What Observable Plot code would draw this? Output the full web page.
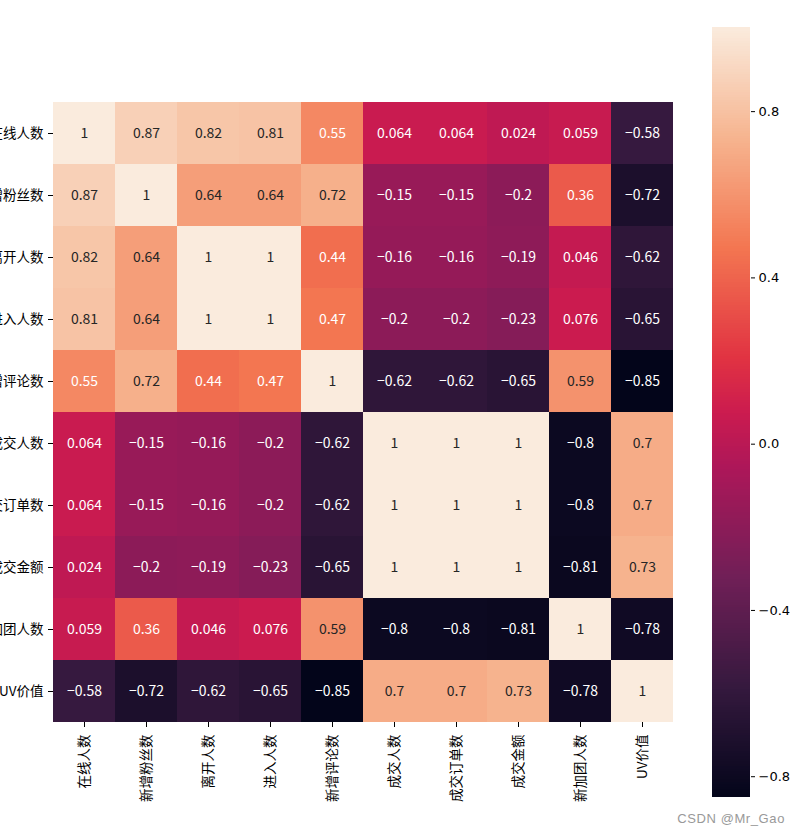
<!DOCTYPE html>
<html>
<head>
<meta charset="utf-8">
<script src="https://cdn.jsdelivr.net/npm/d3@7"></script>
<script src="https://cdn.jsdelivr.net/npm/@observablehq/plot@0.6"></script>
<style>
  html, body { margin: 0; padding: 0; background: #fff; }
  #wrap { position: relative; width: 800px; height: 836px; overflow: hidden; font-family: "Noto Sans CJK SC", "Noto Sans", sans-serif; }
  #main, #cbar { position: absolute; top: 0; }
  #main { left: 0; }
  #cbar { left: 690px; }
  #mark { position: absolute; right: 15px; top: 811px; font: 13px "Liberation Sans", Arial, sans-serif; letter-spacing: 0.6px; color: #999; }
</style>
</head>
<body>
<div id="wrap">
  <div id="main"></div>
  <div id="cbar"></div>
  <div id="mark">CSDN @Mr_Gao</div>
</div>
<script>
const labels = ["在线人数","新增粉丝数","离开人数","进入人数","新增评论数","成交人数","成交订单数","成交金额","新加团人数","UV价值"];
const corr = [
  [1, 0.87, 0.82, 0.81, 0.55, 0.064, 0.064, 0.024, 0.059, -0.58],
  [0.87, 1, 0.64, 0.64, 0.72, -0.15, -0.15, -0.2, 0.36, -0.72],
  [0.82, 0.64, 1, 1, 0.44, -0.16, -0.16, -0.19, 0.046, -0.62],
  [0.81, 0.64, 1, 1, 0.47, -0.2, -0.2, -0.23, 0.076, -0.65],
  [0.55, 0.72, 0.44, 0.47, 1, -0.62, -0.62, -0.65, 0.59, -0.85],
  [0.064, -0.15, -0.16, -0.2, -0.62, 1, 1, 1, -0.8, 0.7],
  [0.064, -0.15, -0.16, -0.2, -0.62, 1, 1, 1, -0.8, 0.7],
  [0.024, -0.2, -0.19, -0.23, -0.65, 1, 1, 1, -0.81, 0.73],
  [0.059, 0.36, 0.046, 0.076, 0.59, -0.8, -0.8, -0.81, 1, -0.78],
  [-0.58, -0.72, -0.62, -0.65, -0.85, 0.7, 0.7, 0.73, -0.78, 1]
];
const cbarTicks = [0.8, 0.4, 0.0, -0.4, -0.8];

// seaborn "rocket" colormap stops
const rocketT = [0, 1/7, 2/7, 3/7, 0.5, 4/7, 5/7, 6/7, 1];
const rocketC = ["#03051a","#35193e","#701f57","#ad1759","#cb1b4f","#e13342","#f37651","#f6b48f","#faebdd"];

const cells = labels.flatMap((r, i) => labels.map((c, j) => ({row: r, col: c, value: corr[i][j]})));
const vmin = d3.min(cells, d => d.value);
const vmax = d3.max(cells, d => d.value);
const stopDomain = rocketT.map(t => vmin + t * (vmax - vmin));
const colorOpts = {type: "linear", domain: stopDomain, range: rocketC, interpolate: "rgb"};

const cfn = d3.scaleLinear().domain(stopDomain).range(rocketC).interpolate(d3.interpolateRgb);
function lum(col) {
  const c = d3.rgb(col);
  const f = v => { v /= 255; return v <= 0.03928 ? v / 12.92 : Math.pow((v + 0.055) / 1.055, 2.4); };
  return 0.2126 * f(c.r) + 0.7152 * f(c.g) + 0.0722 * f(c.b);
}
const fmt = v => String(v).replace("-", "\u2212");

const main = Plot.plot({
  width: 800,
  height: 836,
  marginLeft: 53,
  marginRight: 127,
  marginTop: 102,
  marginBottom: 114,
  style: {fontFamily: "'Noto Sans CJK SC', sans-serif", fontSize: "13.5px", color: "#000", background: "transparent"},
  x: {domain: labels, padding: 0, label: null, tickRotate: -90, tickSize: 5, tickPadding: 7},
  y: {domain: labels, padding: 0, label: null, tickSize: 5, tickPadding: 5},
  color: colorOpts,
  marks: [
    Plot.cell(cells, {x: "col", y: "row", fill: "value", inset: 0, shapeRendering: "crispEdges"}),
    Plot.text(cells, {
      x: "col", y: "row",
      text: d => fmt(d.value),
      fill: d => lum(cfn(d.value)) > 0.408 ? "#262626" : "#ffffff",
      fontSize: 14
    })
  ]
});
document.getElementById("main").appendChild(main);

const ramp = d3.range(0, 300).map(i => {
  const a = vmin + (vmax - vmin) * i / 300;
  const b = vmin + (vmax - vmin) * (i + 1) / 300;
  return {y1: a, y2: b, v: (a + b) / 2};
});
const cbar = Plot.plot({
  width: 110,
  height: 836,
  marginLeft: 22,
  marginRight: 50,
  marginTop: 28,
  marginBottom: 39,
  style: {fontFamily: "'DejaVu Sans', sans-serif", fontSize: "13px", color: "#000", background: "transparent"},
  x: {domain: [0, 1], axis: null},
  y: {domain: [vmin, vmax], axis: "right", ticks: cbarTicks, tickFormat: d3.format(".1f"), label: null, tickSize: 4, tickPadding: 4},
  color: colorOpts,
  marks: [
    Plot.rect(ramp, {x1: 0, x2: 1, y1: "y1", y2: "y2", fill: "v", inset: 0, insetTop: -1, shapeRendering: "crispEdges"})
  ]
});
document.getElementById("cbar").appendChild(cbar);
</script>
</body>
</html>
